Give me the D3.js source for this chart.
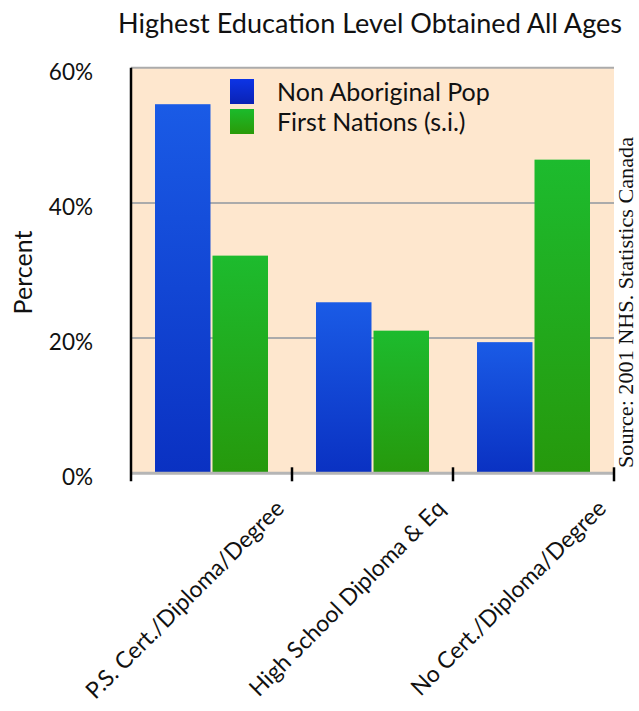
<!DOCTYPE html>
<html>
<head>
<meta charset="utf-8">
<script src="https://cdn.jsdelivr.net/npm/d3@7/dist/d3.min.js"></script>
<style>
  html, body { margin: 0; padding: 0; background: #ffffff; }
  svg { display: block; }
  text { font-family: Lato, "Open Sans", sans-serif; fill: #111; }
</style>
</head>
<body>
<svg id="chart" width="639" height="711"></svg>
<script>
// Highest education level obtained, all ages (percent of population)
const categories = ["P.S. Cert./Diploma/Degree", "High School Diploma & Eq", "No Cert./Diploma/Degree"];
const seriesNames = ["Non Aboriginal Pop", "First Nations (s.i.)"];
const nonAboriginal = [54.6, 25.3, 19.4];
const firstNations = [32.2, 21.1, 46.4];
const yTicks = [0, 20, 40, 60];
const titleText = "Highest Education Level Obtained All Ages";
const yAxisTitle = "Percent";
const sourceText = "Source: 2001 NHS. Statistics Canada";

const seriesValues = [nonAboriginal, firstNations];
const rows = categories.map((c, i) => ({
  category: c,
  values: seriesNames.map((s, j) => ({ series: s, index: j, value: seriesValues[j][i] }))
}));

const svg = d3.select("#chart");
const plot = { left: 131, right: 614, top: 67.7, bottom: 473.3 };

const x0 = d3.scaleBand().domain(categories).range([plot.left, plot.right]).padding(0);
const x1 = d3.scaleBand().domain(seriesNames)
  .range([24, x0.bandwidth() - 24]).paddingInner(0.035).paddingOuter(0);
const y = d3.scaleLinear().domain([0, 60]).range([plot.bottom, plot.top]);

// vertical gradients, lighter at the top of each bar
const defs = svg.append("defs");
const gradStops = [
  ["#1a5be6", "#0a31c2"],
  ["#1dbb2e", "#26990c"]
];
gradStops.forEach((g, j) => {
  const lg = defs.append("linearGradient").attr("id", "grad" + j)
    .attr("x1", 0).attr("y1", 0).attr("x2", 0).attr("y2", 1);
  lg.append("stop").attr("offset", "0%").attr("stop-color", g[0]);
  lg.append("stop").attr("offset", "100%").attr("stop-color", g[1]);
});
const legendStops = [
  ["#0c34e6", "#0a22b4"],
  ["#1bbb2c", "#2a9a08"]
];
legendStops.forEach((g, j) => {
  const lg = defs.append("linearGradient").attr("id", "lgrad" + j)
    .attr("x1", 0).attr("y1", 0).attr("x2", 0).attr("y2", 1);
  lg.append("stop").attr("offset", "0%").attr("stop-color", g[0]);
  lg.append("stop").attr("offset", "100%").attr("stop-color", g[1]);
});

// plot background
svg.append("rect")
  .attr("x", plot.left).attr("y", plot.top)
  .attr("width", plot.right - plot.left).attr("height", plot.bottom - plot.top)
  .attr("fill", "#fee7ce");

// horizontal gridlines
svg.append("g").selectAll("line").data(yTicks.filter(d => d > 0)).join("line")
  .attr("x1", plot.left).attr("x2", plot.right)
  .attr("y1", d => y(d)).attr("y2", d => y(d))
  .attr("stroke", "#ababab").attr("stroke-width", 2);

// bars
const groups = svg.append("g").selectAll("g").data(rows).join("g")
  .attr("transform", d => `translate(${x0(d.category)},0)`);
groups.selectAll("rect").data(d => d.values).join("rect")
  .attr("x", d => x1(d.series))
  .attr("width", x1.bandwidth())
  .attr("y", d => y(d.value))
  .attr("height", d => y(0) - y(d.value))
  .attr("fill", d => `url(#grad${d.index})`);

// x axis baseline
svg.append("line")
  .attr("x1", plot.left).attr("x2", plot.right)
  .attr("y1", y(0)).attr("y2", y(0))
  .attr("stroke", "#b5b5b5").attr("stroke-width", 3);

// category separator ticks
const tickXs = categories.map(c => x0(c) + x0.bandwidth());
svg.append("g").selectAll("line").data(tickXs).join("line")
  .attr("x1", d => d).attr("x2", d => d)
  .attr("y1", y(0) - 6).attr("y2", y(0) + 8)
  .attr("stroke", "#000").attr("stroke-width", 2.5);

// y axis line
svg.append("line")
  .attr("x1", plot.left).attr("x2", plot.left)
  .attr("y1", plot.top).attr("y2", y(0) + 8)
  .attr("stroke", "#000").attr("stroke-width", 2.5);

// y tick labels
svg.append("g").selectAll("text").data(yTicks).join("text")
  .attr("x", 93).attr("y", d => y(d) + 12)
  .attr("text-anchor", "end")
  .attr("font-size", 22.5)
  .text(d => d + "%");

// y axis title
svg.append("text")
  .attr("transform", "translate(32,272.5) rotate(-90)")
  .attr("text-anchor", "middle")
  .attr("font-size", 25)
  .text(yAxisTitle);

// category labels
svg.append("g").selectAll("text").data(categories).join("text")
  .attr("transform", c => `translate(${x0(c) + x0.bandwidth() / 2 + 74},510) rotate(-45)`)
  .attr("text-anchor", "end")
  .attr("font-size", 23)
  .text(c => c);

// title
svg.append("text")
  .attr("x", 370).attr("y", 33)
  .attr("text-anchor", "middle")
  .attr("font-size", 26)
  .attr("textLength", 504)
  .attr("lengthAdjust", "spacingAndGlyphs")
  .text(titleText);

// legend
const legend = svg.append("g").selectAll("g").data(seriesNames).join("g")
  .attr("transform", (d, i) => `translate(230,${79 + i * 30})`);
legend.append("rect")
  .attr("width", 24).attr("height", 25)
  .attr("fill", (d, i) => `url(#lgrad${i})`);
legend.append("text")
  .attr("x", 47).attr("y", 21.5)
  .attr("font-size", 25)
  .text(d => d);

// source note
svg.append("text")
  .attr("transform", "translate(633,302.5) rotate(-90)")
  .attr("text-anchor", "middle")
  .style("font-family", "'Liberation Serif', 'DejaVu Serif', serif")
  .attr("font-size", 21)
  .attr("textLength", 331)
  .attr("lengthAdjust", "spacingAndGlyphs")
  .text(sourceText);
</script>
</body>
</html>
